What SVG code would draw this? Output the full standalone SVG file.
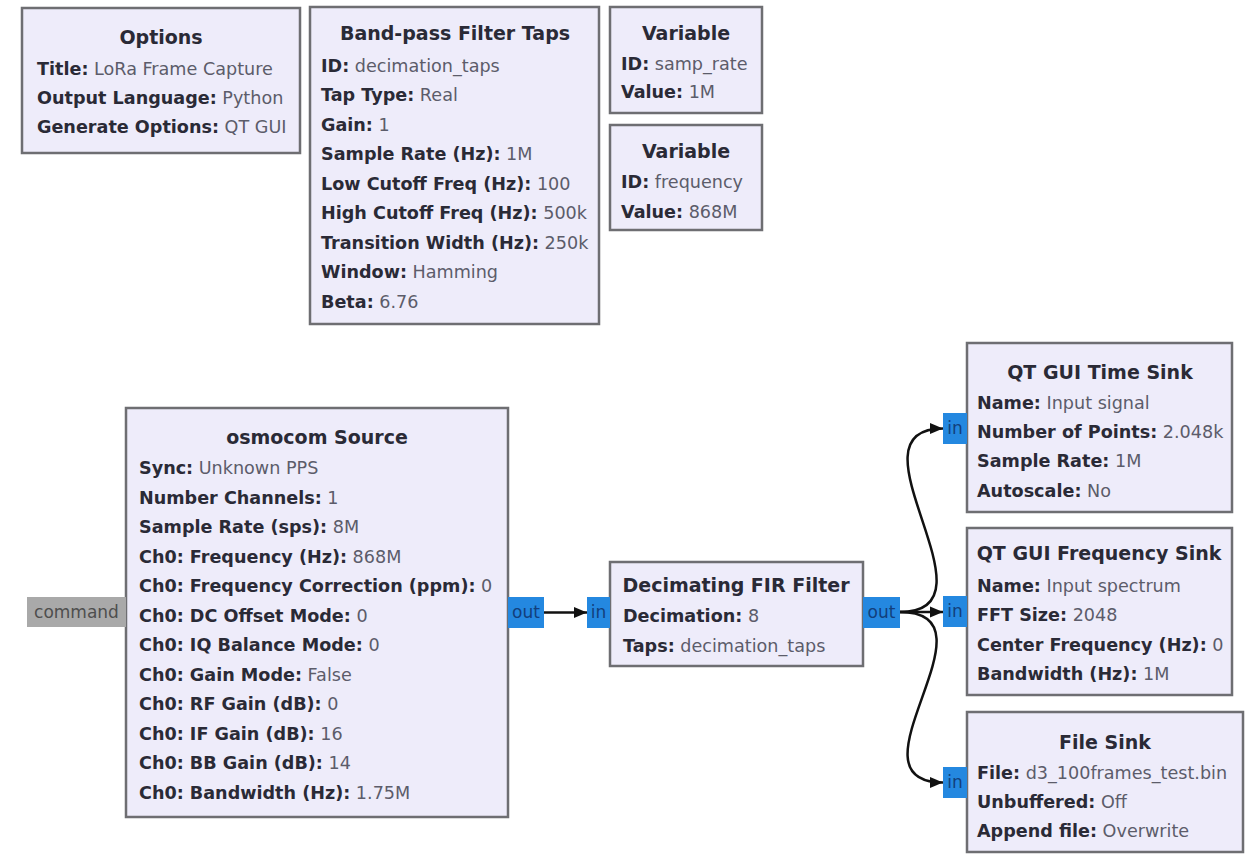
<svg xmlns="http://www.w3.org/2000/svg" width="1251" height="854" viewBox="0 0 1251 854">
<style>
.blk{fill:#eeecfa;stroke:#6e6e72;stroke-width:2.5}
.t{font-family:"DejaVu Sans",sans-serif;font-size:19px;font-weight:bold;fill:#2a2a36;text-anchor:middle}
.p{font-family:"DejaVu Sans",sans-serif;font-size:17.6px;fill:#5c5c6a}
.b{font-weight:bold;fill:#2a2a36}
.port{fill:#2488e0}
.pt{font-family:"DejaVu Sans",sans-serif;font-size:17px;fill:#123f7c;text-anchor:middle}
.msg{fill:#a9a9a9}
.mt{font-family:"DejaVu Sans",sans-serif;font-size:17px;fill:#4e4e4e;text-anchor:middle}
.c{fill:none;stroke:#111;stroke-width:2.5;marker-end:url(#arr)}
</style>
<defs>
<marker id="arr" markerUnits="userSpaceOnUse" markerWidth="14" markerHeight="12" refX="13" refY="6" orient="auto">
<path d="M0,0.5 L13,6 L0,11.5 z" fill="#111"/>
</marker>
</defs>
<rect width="1251" height="854" fill="#ffffff"/>

<g id="options">
<rect class="blk" x="22" y="8" width="278" height="145"/>
<text class="t" x="161" y="44">Options</text>
<text class="p" x="37" y="75"><tspan class="b">Title:</tspan> LoRa Frame Capture</text>
<text class="p" x="37" y="104"><tspan class="b">Output Language:</tspan> Python</text>
<text class="p" x="37" y="133"><tspan class="b">Generate Options:</tspan> QT GUI</text>
</g>

<g id="bandpass">
<rect class="blk" x="310" y="7" width="289" height="317"/>
<text class="t" x="455" y="40">Band-pass Filter Taps</text>
<text class="p" x="321" y="72"><tspan class="b">ID:</tspan> decimation_taps</text>
<text class="p" x="321" y="101"><tspan class="b">Tap Type:</tspan> Real</text>
<text class="p" x="321" y="131"><tspan class="b">Gain:</tspan> 1</text>
<text class="p" x="321" y="160"><tspan class="b">Sample Rate (Hz):</tspan> 1M</text>
<text class="p" x="321" y="190"><tspan class="b">Low Cutoff Freq (Hz):</tspan> 100</text>
<text class="p" x="321" y="219"><tspan class="b">High Cutoff Freq (Hz):</tspan> 500k</text>
<text class="p" x="321" y="249"><tspan class="b">Transition Width (Hz):</tspan> 250k</text>
<text class="p" x="321" y="278"><tspan class="b">Window:</tspan> Hamming</text>
<text class="p" x="321" y="308"><tspan class="b">Beta:</tspan> 6.76</text>
</g>

<g id="var_samp_rate">
<rect class="blk" x="610" y="7" width="152" height="106"/>
<text class="t" x="686" y="40">Variable</text>
<text class="p" x="621" y="70"><tspan class="b">ID:</tspan> samp_rate</text>
<text class="p" x="621" y="98"><tspan class="b">Value:</tspan> 1M</text>
</g>

<g id="var_frequency">
<rect class="blk" x="610" y="125" width="152" height="105"/>
<text class="t" x="686" y="158">Variable</text>
<text class="p" x="621" y="188"><tspan class="b">ID:</tspan> frequency</text>
<text class="p" x="621" y="218"><tspan class="b">Value:</tspan> 868M</text>
</g>

<g id="osmocom_source">
<rect class="blk" x="126" y="408" width="382" height="409"/>
<text class="t" x="317" y="444">osmocom Source</text>
<text class="p" x="139" y="474"><tspan class="b">Sync:</tspan> Unknown PPS</text>
<text class="p" x="139" y="504"><tspan class="b">Number Channels:</tspan> 1</text>
<text class="p" x="139" y="533"><tspan class="b">Sample Rate (sps):</tspan> 8M</text>
<text class="p" x="139" y="563"><tspan class="b">Ch0: Frequency (Hz):</tspan> 868M</text>
<text class="p" x="139" y="592"><tspan class="b">Ch0: Frequency Correction (ppm):</tspan> 0</text>
<text class="p" x="139" y="622"><tspan class="b">Ch0: DC Offset Mode:</tspan> 0</text>
<text class="p" x="139" y="651"><tspan class="b">Ch0: IQ Balance Mode:</tspan> 0</text>
<text class="p" x="139" y="681"><tspan class="b">Ch0: Gain Mode:</tspan> False</text>
<text class="p" x="139" y="710"><tspan class="b">Ch0: RF Gain (dB):</tspan> 0</text>
<text class="p" x="139" y="740"><tspan class="b">Ch0: IF Gain (dB):</tspan> 16</text>
<text class="p" x="139" y="769"><tspan class="b">Ch0: BB Gain (dB):</tspan> 14</text>
<text class="p" x="139" y="799"><tspan class="b">Ch0: Bandwidth (Hz):</tspan> 1.75M</text>
<rect class="msg" x="27" y="597" width="99" height="30"/>
<text class="mt" x="76.5" y="618">command</text>
<rect class="port" x="508" y="597" width="36" height="31"/>
<text class="pt" x="526" y="618">out</text>
</g>

<g id="fir_filter">
<rect class="blk" x="610" y="562" width="253" height="104"/>
<text class="t" x="736" y="592">Decimating FIR Filter</text>
<text class="p" x="623" y="622"><tspan class="b">Decimation:</tspan> 8</text>
<text class="p" x="623" y="652"><tspan class="b">Taps:</tspan> decimation_taps</text>
<rect class="port" x="587" y="597" width="23" height="31"/>
<text class="pt" x="598.5" y="618">in</text>
<rect class="port" x="863" y="597" width="37" height="31"/>
<text class="pt" x="881.5" y="618">out</text>
</g>

<g id="time_sink">
<rect class="blk" x="967" y="343" width="265" height="169"/>
<text class="t" x="1100" y="379">QT GUI Time Sink</text>
<text class="p" x="977" y="409"><tspan class="b">Name:</tspan> Input signal</text>
<text class="p" x="977" y="438"><tspan class="b">Number of Points:</tspan> 2.048k</text>
<text class="p" x="977" y="467"><tspan class="b">Sample Rate:</tspan> 1M</text>
<text class="p" x="977" y="497"><tspan class="b">Autoscale:</tspan> No</text>
<rect class="port" x="943" y="413" width="24" height="31"/>
<text class="pt" x="955" y="434">in</text>
</g>

<g id="freq_sink">
<rect class="blk" x="967" y="528" width="265" height="167"/>
<text class="t" x="1099" y="560">QT GUI Frequency Sink</text>
<text class="p" x="977" y="592"><tspan class="b">Name:</tspan> Input spectrum</text>
<text class="p" x="977" y="621"><tspan class="b">FFT Size:</tspan> 2048</text>
<text class="p" x="977" y="651"><tspan class="b">Center Frequency (Hz):</tspan> 0</text>
<text class="p" x="977" y="680"><tspan class="b">Bandwidth (Hz):</tspan> 1M</text>
<rect class="port" x="943" y="596" width="24" height="31"/>
<text class="pt" x="955" y="617">in</text>
</g>

<g id="file_sink">
<rect class="blk" x="967" y="712" width="276" height="140"/>
<text class="t" x="1105" y="749">File Sink</text>
<text class="p" x="977" y="779"><tspan class="b">File:</tspan> d3_100frames_test.bin</text>
<text class="p" x="977" y="808"><tspan class="b">Unbuffered:</tspan> Off</text>
<text class="p" x="977" y="837"><tspan class="b">Append file:</tspan> Overwrite</text>
<rect class="port" x="943" y="767" width="24" height="31"/>
<text class="pt" x="955" y="788">in</text>
</g>

<g id="connectors">
<path class="c" d="M544 612.5 L587 612.5"/>
<path class="c" d="M900 612 L943 612"/>
<path class="c" d="M900 612 C1005 612, 840 428.5, 943 428.5"/>
<path class="c" d="M900 612 C1005 612, 840 782.5, 943 782.5"/>
</g>
</svg>
